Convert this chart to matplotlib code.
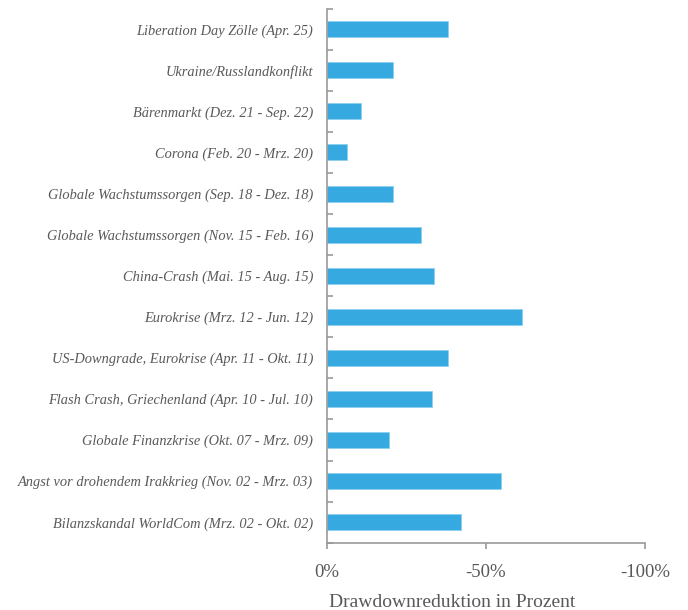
import numpy as np
import matplotlib.pyplot as plt
from matplotlib.ticker import FixedLocator

# Drawdown events, top to bottom
events = [
    'Liberation Day Zölle (Apr. 25)',
    'Ukraine/Russlandkonflikt',
    'Bärenmarkt (Dez. 21 - Sep. 22)',
    'Corona (Feb. 20 - Mrz. 20)',
    'Globale Wachstumssorgen (Sep. 18 - Dez. 18)',
    'Globale Wachstumssorgen (Nov. 15 - Feb. 16)',
    'China-Crash (Mai. 15 - Aug. 15)',
    'Eurokrise (Mrz. 12 - Jun. 12)',
    'US-Downgrade, Eurokrise (Apr. 11 - Okt. 11)',
    'Flash Crash, Griechenland (Apr. 10 - Jul. 10)',
    'Globale Finanzkrise (Okt. 07 - Mrz. 09)',
    'Angst vor drohendem Irakkrieg (Nov. 02 - Mrz. 03)',
    'Bilanzskandal WorldCom (Mrz. 02 - Okt. 02)',
]
# drawdown reduction in percent (negative)
reduction = [-37.9, -20.8, -10.8, -6.2, -20.8, -29.6, -33.7,
             -61.3, -38.2, -33.1, -19.4, -54.6, -42.0]
xticks = [0, -50, -100]
xticklabels = ['0%', '-50%', '-100%']

text_color = '#595959'
axis_color = '#9a9a9a'

fig = plt.figure(figsize=(6.88, 6.10), dpi=100)
ax = fig.add_axes([0.4753, 0.1103, 0.4622, 0.8755])

pos = np.arange(len(events))
ax.barh(pos, reduction, height=0.39, color='#36a9e1', edgecolor='#8fd0ef', linewidth=0.6)

ax.set_xlim(0, -100)
ax.set_ylim(len(events) - 0.5, -0.5)

ax.set_xticks(xticks)
ax.set_xticklabels(xticklabels, family='Liberation Serif', fontsize=13.5, color=text_color)
ax.set_yticks(pos)
ax.set_yticklabels(events, family='Liberation Serif', style='italic', fontsize=10.4, color=text_color)
ax.yaxis.set_minor_locator(FixedLocator(np.arange(-0.5, len(events), 1.0)))

ax.tick_params(axis='y', which='major', length=0, pad=10)
ax.tick_params(axis='y', which='minor', direction='in', length=4, width=1.2, color=axis_color)
ax.tick_params(axis='x', which='major', direction='out', length=4, width=1.2, color=axis_color, pad=11)

for side in ['top', 'right']:
    ax.spines[side].set_visible(False)
for side in ['left', 'bottom']:
    ax.spines[side].set_color(axis_color)
    ax.spines[side].set_linewidth(1.2)

ax.set_xlabel('Drawdownreduktion in Prozent', family='Liberation Serif', fontsize=14,
              color=text_color)
ax.xaxis.set_label_coords(0.393, -0.096)

fig.savefig('out.png', dpi=100)
